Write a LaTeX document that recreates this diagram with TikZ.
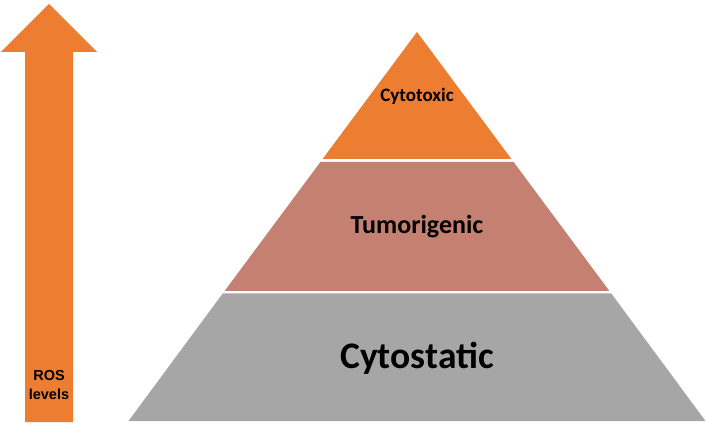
\documentclass[tikz,border=0pt]{standalone}
\usepackage{fontspec}
\setmainfont{Carlito}
\newfontfamily\arialfont{Liberation Sans}
\definecolor{rosorange}{RGB}{237,125,49}
\definecolor{tumrose}{RGB}{196,128,112}
\definecolor{statgray}{RGB}{166,166,166}
\begin{document}
\begin{tikzpicture}[x=1pt,y=-1pt,
  lbl/.style={font=\bfseries, text=black, inner sep=0pt, anchor=center}]
\useasboundingbox (0,0) rectangle (706,427);
% ROS arrow
\fill[rosorange] (25,422) -- (25,52) -- (1,52) -- (49,4) -- (97,52) -- (73,52) -- (73,422) -- cycle;
\node[font=\arialfont\bfseries\fontsize{14.5}{19.5}\selectfont, align=center, inner sep=0pt] (ros) at (49,385) {ROS\\levels};
% pyramid tiers
\fill[rosorange] (417,32) -- (511.4,159) -- (322.6,159) -- cycle;
\fill[tumrose] (320.4,162) -- (513.6,162) -- (609.4,291) -- (224.6,291) -- cycle;
\fill[statgray] (222.7,293.5) -- (611.3,293.5) -- (705.5,421) -- (128.5,421) -- cycle;
\node[lbl, font=\bfseries\fontsize{19}{22}\selectfont] (cytotoxic) at (417,96) {Cytotoxic};
\node[lbl, font=\bfseries\fontsize{26}{30}\selectfont] (tumorigenic) at (417,227) {Tumorigenic};
\node[lbl, font=\bfseries\fontsize{37.5}{42}\selectfont] (cytostatic) at (417,358) {Cytostatic};
\end{tikzpicture}
\end{document}
